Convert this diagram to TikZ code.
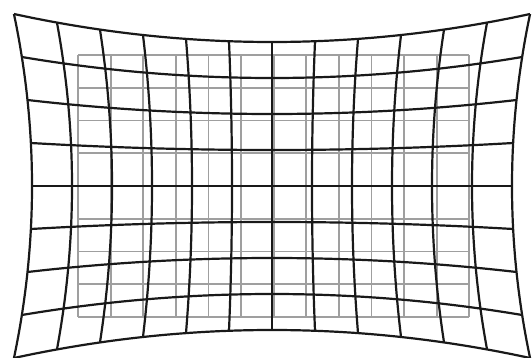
\documentclass[tikz,border=0pt]{standalone}
\begin{document}
\begin{tikzpicture}[x=1pt,y=-1pt,
  refgrid/.style={draw=gray!75,line width=1.8pt},
  warpgrid/.style={draw=black!90,line width=2.2pt,line join=round}]
\useasboundingbox (0,0) rectangle (532,358);
% undistorted reference grid
\foreach \i in {0,...,12}
  \draw[refgrid] ({78+32.6*\i},55) -- ({78+32.6*\i},317);
\foreach \j in {0,...,8}
  \draw[refgrid] (78,{55+32.75*\j}) -- (469,{55+32.75*\j});
% pincushion grid
\foreach \u in {-6,...,6}
  \draw[warpgrid] plot[domain=-4:4,samples=25,smooth,variable=\v]
    ({272+40*(\u)*(1+0.0047*(\v)*(\v))},{186+36*(\v)*(1+0.0054*(\u)*(\u))});
\foreach \v in {-4,...,4}
  \draw[warpgrid] plot[domain=-6:6,samples=31,smooth,variable=\u]
    ({272+40*(\u)*(1+0.0047*(\v)*(\v))},{186+36*(\v)*(1+0.0054*(\u)*(\u))});
\end{tikzpicture}
\end{document}
